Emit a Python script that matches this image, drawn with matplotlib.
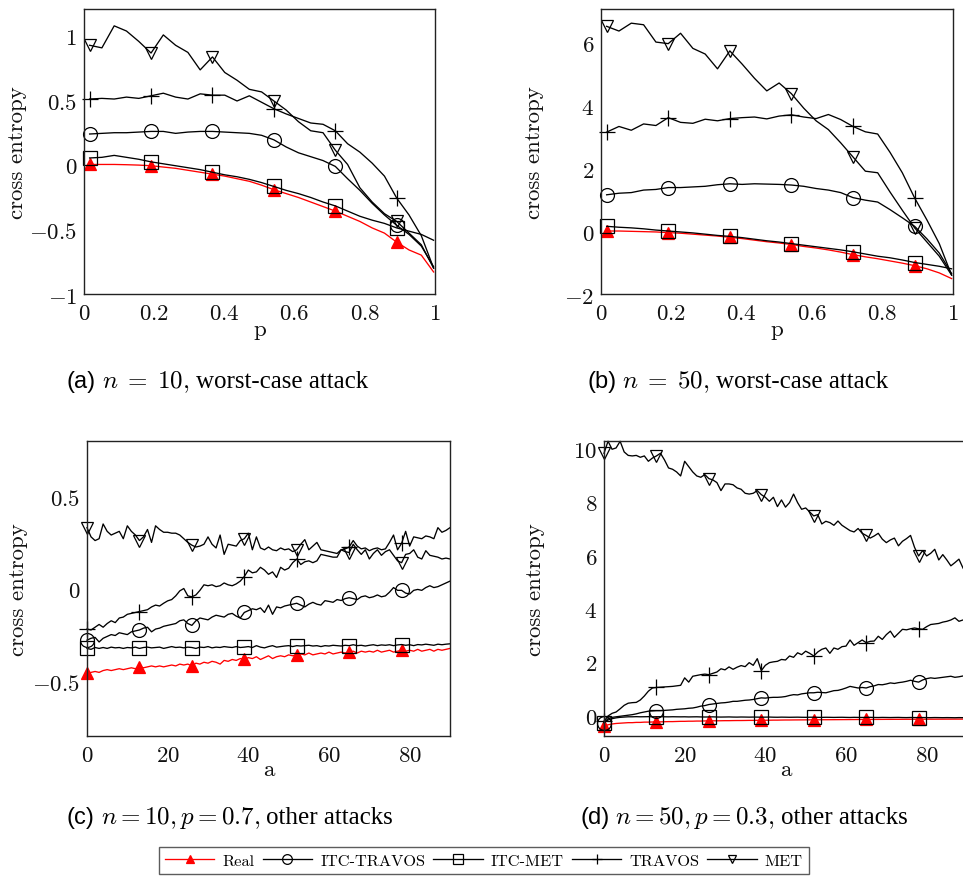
import numpy as np
import matplotlib
matplotlib.use("Agg")
import matplotlib.pyplot as plt
from matplotlib.ticker import FuncFormatter, FixedLocator

plt.rcParams['mathtext.fontset'] = 'cm'
plt.rcParams['axes.formatter.use_mathtext'] = True

# ---------------- data ----------------
SERIES = ["Real", "ITC-TRAVOS", "ITC-MET", "TRAVOS", "MET"]

# x grids
P_GRID = np.round(np.linspace(0.016, 0.996, 29), 3)   # panels (a), (b)
A_GRID = np.arange(0, 91)                              # panels (c), (d)

# (a) n = 10, worst-case attack
REAL_A = [0.0, 0.0, 0.0, -0.002, -0.005, -0.01, -0.02, -0.03, -0.045, -0.06,
          -0.075, -0.09, -0.11, -0.13, -0.16, -0.195, -0.225, -0.255, -0.29, -0.325,
          -0.36, -0.40, -0.44, -0.49, -0.53, -0.60, -0.66, -0.70, -0.83]
ITCTRAVOS_A = [0.235, 0.24, 0.245, 0.245, 0.25, 0.255, 0.255, 0.24, 0.25, 0.255,
               0.255, 0.25, 0.245, 0.24, 0.225, 0.19, 0.135, 0.09, 0.06, 0.03,
               -0.015, -0.11, -0.2, -0.3, -0.39, -0.47, -0.54, -0.63, -0.79]
ITCMET_A = [0.05, 0.055, 0.07, 0.055, 0.04, 0.02, 0.005, -0.01, -0.025, -0.04,
            -0.06, -0.08, -0.095, -0.115, -0.14, -0.17, -0.2, -0.225, -0.255, -0.29,
            -0.32, -0.36, -0.40, -0.43, -0.455, -0.49, -0.515, -0.54, -0.585]
TRAVOS_A = [0.505, 0.51, 0.505, 0.52, 0.51, 0.53, 0.55, 0.52, 0.505, 0.545,
            0.535, 0.535, 0.49, 0.53, 0.48, 0.43, 0.39, 0.355, 0.32, 0.31,
            0.26, 0.16, 0.095, 0.01, -0.09, -0.26, -0.39, -0.55, -0.80]
MET_A = [0.92, 0.9, 1.07, 1.03, 0.95, 0.86, 1.0, 0.92, 0.865, 0.73,
         0.83, 0.71, 0.65, 0.58, 0.56, 0.49, 0.42, 0.33, 0.26, 0.245,
         0.11, 0.0, -0.18, -0.29, -0.38, -0.44, -0.53, -0.62, -0.80]

# (b) n = 50, worst-case attack
REAL_B = [0.0, 0.0, -0.01, -0.02, -0.03, -0.05, -0.07, -0.1, -0.13, -0.16,
          -0.2, -0.24, -0.29, -0.34, -0.38, -0.43, -0.49, -0.54, -0.6, -0.67,
          -0.75, -0.82, -0.88, -0.95, -1.02, -1.1, -1.2, -1.33, -1.51]
ITCTRAVOS_B = [1.15, 1.2, 1.22, 1.3, 1.32, 1.38, 1.38, 1.4, 1.42, 1.47,
               1.5, 1.48, 1.5, 1.49, 1.48, 1.46, 1.42, 1.35, 1.3, 1.22,
               1.06, 0.98, 0.92, 0.68, 0.42, 0.15, -0.25, -0.7, -1.35]
ITCMET_B = [0.15, 0.12, 0.1, 0.07, 0.03, 0.0, -0.03, -0.06, -0.1, -0.14,
            -0.17, -0.21, -0.26, -0.31, -0.35, -0.40, -0.45, -0.5, -0.55, -0.6,
            -0.66, -0.73, -0.8, -0.85, -0.92, -1.0, -1.06, -1.12, -1.2]
TRAVOS_B = [3.14, 3.32, 3.2, 3.4, 3.35, 3.6, 3.45, 3.42, 3.55, 3.5,
            3.57, 3.6, 3.62, 3.56, 3.65, 3.69, 3.62, 3.57, 3.7, 3.54,
            3.32, 3.15, 3.08, 2.5, 1.85, 1.05, 0.35, -0.4, -1.4]
MET_B = [6.5, 6.35, 6.6, 6.55, 6.0, 5.95, 6.28, 5.8, 5.62, 5.15,
         5.72, 5.3, 4.85, 4.45, 4.7, 4.36, 3.9, 3.5, 3.22, 2.8,
         2.35, 1.9, 1.85, 1.24, 0.66, 0.1, -0.35, -0.8, -1.4]

# (c) n=10, p=0.7, other attacks
REAL_C = [-0.46, -0.455, -0.45, -0.455, -0.445, -0.44, -0.445, -0.44, -0.435, -0.44,
          -0.435, -0.43, -0.435, -0.425, -0.43, -0.425, -0.42, -0.425, -0.42, -0.425,
          -0.42, -0.415, -0.42, -0.41, -0.415, -0.41, -0.42, -0.405, -0.41, -0.40,
          -0.405, -0.395, -0.40, -0.41, -0.39, -0.395, -0.385, -0.39, -0.38, -0.385,
          -0.375, -0.38, -0.37, -0.385, -0.375, -0.365, -0.38, -0.37, -0.365, -0.37,
          -0.36, -0.365, -0.36, -0.355, -0.36, -0.35, -0.36, -0.355, -0.35, -0.355,
          -0.345, -0.355, -0.35, -0.345, -0.35, -0.345, -0.34, -0.35, -0.34, -0.345,
          -0.34, -0.345, -0.335, -0.345, -0.34, -0.335, -0.345, -0.34, -0.335, -0.34,
          -0.335, -0.34, -0.33, -0.34, -0.335, -0.33, -0.34, -0.33, -0.335, -0.33, -0.325]
ITCTRAVOS_C = [-0.28, -0.27, -0.265, -0.29, -0.27, -0.26, -0.25, -0.255, -0.24, -0.245,
               -0.25, -0.235, -0.23, -0.225, -0.215, -0.21, -0.235, -0.22, -0.215, -0.205,
               -0.2, -0.195, -0.19, -0.175, -0.17, -0.19, -0.2, -0.175, -0.16, -0.165,
               -0.17, -0.155, -0.145, -0.15, -0.155, -0.14, -0.135, -0.15, -0.16, -0.13,
               -0.12, -0.11, -0.115, -0.105, -0.13, -0.09, -0.14, -0.1, -0.105, -0.095,
               -0.09, -0.085, -0.08, -0.09, -0.1, -0.085, -0.075, -0.085, -0.09, -0.066,
               -0.07, -0.075, -0.06, -0.065, -0.055, -0.05, -0.055, -0.06, -0.045, -0.04,
               -0.05, -0.045, -0.035, -0.045, -0.04, -0.02, 0.005, -0.01, -0.01, -0.025,
               -0.03, -0.01, -0.005, -0.01, 0.005, 0.015, 0.005, 0.01, 0.02, 0.03, 0.04]
ITCMET_C = [-0.325, -0.33, -0.32, -0.325, -0.32, -0.325, -0.318, -0.322, -0.32, -0.325,
            -0.32, -0.322, -0.318, -0.325, -0.32, -0.318, -0.322, -0.32, -0.318, -0.325,
            -0.32, -0.315, -0.32, -0.318, -0.322, -0.318, -0.32, -0.325, -0.318, -0.32,
            -0.315, -0.322, -0.318, -0.32, -0.315, -0.318, -0.32, -0.315, -0.32, -0.318,
            -0.315, -0.32, -0.31, -0.318, -0.322, -0.315, -0.31, -0.318, -0.315, -0.312,
            -0.31, -0.315, -0.31, -0.312, -0.31, -0.308, -0.312, -0.31, -0.315, -0.31,
            -0.312, -0.308, -0.31, -0.312, -0.308, -0.31, -0.305, -0.31, -0.308, -0.312,
            -0.308, -0.305, -0.31, -0.306, -0.308, -0.305, -0.31, -0.306, -0.304, -0.308,
            -0.305, -0.31, -0.304, -0.306, -0.302, -0.305, -0.308, -0.302, -0.305, -0.302, -0.30]
TRAVOS_C = [-0.22, -0.225, -0.21, -0.195, -0.21, -0.19, -0.175, -0.185, -0.16, -0.155,
            -0.14, -0.135, -0.13, -0.125, -0.12, -0.115, -0.1, -0.09, -0.095, -0.08,
            -0.067, -0.06, -0.04, -0.013, 0.0, -0.04, -0.045, -0.035, -0.01, 0.02,
            0.015, 0.02, 0.01, 0.015, 0.03, 0.02, 0.015, 0.025, 0.04, 0.065,
            0.1, 0.085, 0.09, 0.115, 0.1, 0.077, 0.09, 0.06, 0.115, 0.1,
            0.11, 0.14, 0.16, 0.13, 0.145, 0.15, 0.14, 0.15, 0.185, 0.18,
            0.175, 0.17, 0.17, 0.21, 0.215, 0.225, 0.26, 0.23, 0.215, 0.22,
            0.205, 0.215, 0.22, 0.21, 0.215, 0.25, 0.29, 0.21, 0.245, 0.31,
            0.23, 0.28, 0.275, 0.27, 0.285, 0.28, 0.27, 0.33, 0.305, 0.315, 0.33]
MET_C = [0.33, 0.28, 0.26, 0.27, 0.35, 0.31, 0.29, 0.3, 0.31, 0.27,
         0.34, 0.31, 0.29, 0.26, 0.28, 0.32, 0.25, 0.34, 0.32, 0.305,
         0.305, 0.3, 0.3, 0.29, 0.27, 0.25, 0.235, 0.225, 0.23, 0.24,
         0.28, 0.24, 0.22, 0.29, 0.185, 0.24, 0.235, 0.23, 0.26, 0.27,
         0.3, 0.21, 0.28, 0.22, 0.21, 0.225, 0.21, 0.205, 0.22, 0.21,
         0.215, 0.2, 0.21, 0.24, 0.265, 0.21, 0.23, 0.25, 0.21, 0.205,
         0.2, 0.195, 0.19, 0.21, 0.2, 0.195, 0.24, 0.21, 0.185, 0.21,
         0.16, 0.19, 0.21, 0.18, 0.2, 0.21, 0.18, 0.15, 0.14, 0.185,
         0.19, 0.21, 0.17, 0.16, 0.205, 0.18, 0.175, 0.17, 0.16, 0.165, 0.16]

# (d) n=50, p=0.3, other attacks
REAL_D = [-0.42, -0.38, -0.35, -0.33, -0.32, -0.31, -0.3, -0.3, -0.29, -0.29,
          -0.28, -0.28, -0.275, -0.27, -0.27, -0.265, -0.26, -0.26, -0.255, -0.25,
          -0.25, -0.245, -0.245, -0.24, -0.24, -0.235, -0.235, -0.23, -0.23, -0.228,
          -0.225, -0.225, -0.222, -0.22, -0.22, -0.218, -0.215, -0.215, -0.212, -0.21,
          -0.21, -0.208, -0.205, -0.205, -0.202, -0.2, -0.2, -0.198, -0.197, -0.196,
          -0.195, -0.194, -0.193, -0.192, -0.19, -0.19, -0.189, -0.188, -0.187, -0.186,
          -0.185, -0.184, -0.183, -0.182, -0.181, -0.18, -0.18, -0.179, -0.178, -0.177,
          -0.176, -0.176, -0.175, -0.175, -0.174, -0.173, -0.173, -0.172, -0.172, -0.171,
          -0.17, -0.17, -0.17, -0.169, -0.169, -0.168, -0.168, -0.167, -0.167, -0.166, -0.166]
ITCTRAVOS_D = [-0.3, -0.15, -0.1, -0.08, -0.06, -0.04, -0.02, 0.0, 0.03, 0.07,
               0.1, 0.13, 0.14, 0.15, 0.15, 0.16, 0.17, 0.18, 0.2, 0.21,
               0.22, 0.24, 0.25, 0.28, 0.32, 0.34, 0.38, 0.4, 0.42, 0.44,
               0.45, 0.47, 0.5, 0.5, 0.52, 0.54, 0.55, 0.57, 0.6, 0.63,
               0.62, 0.64, 0.65, 0.65, 0.66, 0.68, 0.72, 0.75, 0.74, 0.78,
               0.8, 0.82, 0.82, 0.84, 0.83, 0.82, 0.86, 0.9, 0.91, 0.95,
               1.0, 1.06, 1.03, 1.0, 1.02, 1.0, 1.05, 1.08, 1.13, 1.12,
               1.15, 1.19, 1.17, 1.2, 1.22, 1.25, 1.29, 1.25, 1.22, 1.3,
               1.35, 1.38, 1.36, 1.38, 1.4, 1.42, 1.44, 1.4, 1.42, 1.45, 1.44]
ITCMET_D = [-0.3, -0.2, -0.15, -0.12, -0.1, -0.09, -0.08, -0.08, -0.075, -0.08,
            -0.078, -0.075, -0.08, -0.078, -0.075, -0.08, -0.082, -0.078, -0.08, -0.082,
            -0.08, -0.085, -0.082, -0.08, -0.085, -0.088, -0.085, -0.082, -0.088, -0.09,
            -0.088, -0.085, -0.09, -0.092, -0.088, -0.09, -0.093, -0.09, -0.092, -0.095,
            -0.093, -0.09, -0.095, -0.097, -0.093, -0.095, -0.098, -0.096, -0.094, -0.098,
            -0.1, -0.097, -0.095, -0.1, -0.102, -0.098, -0.1, -0.103, -0.1, -0.098,
            -0.102, -0.105, -0.1, -0.103, -0.105, -0.102, -0.1, -0.105, -0.107, -0.103,
            -0.105, -0.108, -0.105, -0.103, -0.108, -0.11, -0.106, -0.108, -0.11, -0.107,
            -0.11, -0.112, -0.108, -0.11, -0.113, -0.11, -0.112, -0.115, -0.11, -0.113, -0.115]
TRAVOS_D = [-0.25, -0.05, 0.05, 0.1, 0.22, 0.35, 0.43, 0.45, 0.46, 0.55,
            0.7, 0.88, 1.0, 1.02, 1.03, 1.04, 1.05, 1.06, 1.08, 1.1,
            1.38, 1.22, 1.44, 1.47, 1.5, 1.52, 1.5, 1.55, 1.6, 1.72,
            1.68, 1.79, 1.7, 1.78, 1.84, 1.8, 1.95, 1.85, 2.1, 1.65,
            1.85, 1.95, 1.98, 2.0, 2.07, 2.05, 2.2, 2.15, 2.32, 2.25,
            2.38, 2.3, 2.2, 2.35, 2.45, 2.5, 2.3, 2.5, 2.45, 2.55,
            2.57, 2.8, 2.6, 2.7, 2.8, 2.7, 2.75, 2.76, 2.94, 2.82,
            3.0, 3.13, 2.9, 3.05, 3.2, 3.18, 3.22, 3.25, 3.22, 3.2,
            3.3, 3.38, 3.4, 3.42, 3.47, 3.5, 3.55, 3.63, 3.5, 3.55, 3.57]
MET_D = [9.8, 10.25, 9.95, 10.0, 10.25, 9.85, 9.72, 9.7, 9.72, 9.65,
         9.7, 9.5, 9.62, 9.7, 9.8, 9.55, 9.25, 9.2, 9.1, 8.95,
         9.5, 9.3, 9.1, 8.95, 8.9, 9.0, 8.85, 8.8, 8.7, 8.4,
         8.65, 8.65, 8.62, 8.5, 8.45, 8.3, 8.27, 8.3, 8.4, 8.25,
         8.15, 8.0, 8.15, 7.8, 8.05, 7.78, 7.95, 8.27, 7.95, 7.7,
         7.75, 7.6, 7.45, 7.5, 7.15, 7.25, 7.2, 7.1, 7.26, 7.1,
         7.0, 6.9, 6.85, 6.98, 6.8, 6.72, 6.62, 6.7, 6.8, 6.58,
         6.45, 6.55, 6.62, 6.33, 6.5, 6.6, 6.72, 6.27, 5.95, 6.15,
         5.95, 6.05, 6.2, 5.8, 6.0, 5.8, 5.58, 5.7, 5.83, 5.5, 5.25]

PANELS = [
    dict(x=P_GRID, data=[REAL_A, ITCTRAVOS_A, ITCMET_A, TRAVOS_A, MET_A],
         xlim=(0, 1), ylim=(-1, 1.2), xticks=[0, 0.2, 0.4, 0.6, 0.8, 1],
         yticks=[-1, -0.5, 0, 0.5, 1], xlabel="p", every=5),
    dict(x=P_GRID, data=[REAL_B, ITCTRAVOS_B, ITCMET_B, TRAVOS_B, MET_B],
         xlim=(0, 1), ylim=(-2, 7.05), xticks=[0, 0.2, 0.4, 0.6, 0.8, 1],
         yticks=[-2, 0, 2, 4, 6], xlabel="p", every=5),
    dict(x=A_GRID, data=[REAL_C, ITCTRAVOS_C, ITCMET_C, TRAVOS_C, MET_C],
         xlim=(0, 90), ylim=(-0.8, 0.8), xticks=[0, 20, 40, 60, 80],
         yticks=[-0.5, 0, 0.5], xlabel="a", every=13),
    dict(x=A_GRID, data=[REAL_D, ITCTRAVOS_D, ITCMET_D, TRAVOS_D, MET_D],
         xlim=(0, 90), ylim=(-0.8, 10.26), xticks=[0, 20, 40, 60, 80],
         yticks=[0, 2, 4, 6, 8, 10], xlabel="a", every=13),
]

CAPTIONS = [("(a)", r"$n\;=\;10,$", "worst-case attack"),
            ("(b)", r"$n\;=\;50,$", "worst-case attack"),
            ("(c)", r"$n{=}10, p{=}0.7,$", "other attacks"),
            ("(d)", r"$n{=}50, p{=}0.3,$", "other attacks")]

# ---------------- style ----------------
STYLE = {
    "Real":       dict(color="#ff0000", marker="^", ms=9.0, mfc="#ff0000"),
    "ITC-TRAVOS": dict(color="black", marker="o", ms=10.0, mfc="none"),
    "ITC-MET":    dict(color="black", marker="s", ms=9.5, mfc="none"),
    "TRAVOS":     dict(color="black", marker="+", ms=11.0, mfc="none"),
    "MET":        dict(color="black", marker="v", ms=8.5, mfc="none"),
}

W, H = 963, 878
fig = plt.figure(figsize=(W / 100, H / 100), dpi=100)

# axes rectangles in pixels: left, top, width, height
RECTS = [(84, 10, 351, 285), (601, 10, 352, 285),
         (87, 442, 363, 295), (604, 442, 363, 295)]
YLAB_X = [-0.19, -0.19, -0.19, -0.19]
XLAB_Y = [-0.123, -0.123, -0.112, -0.112]

fmt = FuncFormatter(lambda v, pos: r"$%s$" % ("%g" % v))
axes = []
for i, (pan, rect) in enumerate(zip(PANELS, RECTS)):
    l, t, w, h = rect
    ax = fig.add_axes([l / W, 1 - (t + h) / H, w / W, h / H])
    axes.append(ax)
    for name, y in zip(SERIES, pan["data"]):
        st = STYLE[name]
        ax.plot(pan["x"], y, color=st["color"], lw=0.95, marker=st["marker"],
                ms=st["ms"], mfc=st["mfc"], mec=st["color"], mew=0.9,
                markevery=pan["every"], clip_on=False, label=name)
    ax.set_xlim(*pan["xlim"])
    ax.set_ylim(*pan["ylim"])
    ax.xaxis.set_major_locator(FixedLocator(pan["xticks"]))
    ax.yaxis.set_major_locator(FixedLocator(pan["yticks"]))
    ax.xaxis.set_major_formatter(fmt)
    ax.yaxis.set_major_formatter(fmt)
    ax.tick_params(length=0, labelsize=16.5, pad=5, colors="#111111")
    for sp in ax.spines.values():
        sp.set_color("#222222")
        sp.set_linewidth(1.0)
    ax.set_ylabel("cross entropy", fontfamily="cmr10", fontsize=16.5, color="#111111")
    ax.yaxis.set_label_coords(YLAB_X[i], 0.5)
    ax.yaxis.label.set_va("center")
    ax.set_xlabel(pan["xlabel"], fontfamily="cmr10", fontsize=16.5, color="#111111")
    ax.xaxis.set_label_coords(0.5, XLAB_Y[i])
    ax.xaxis.label.set_va("center")

# legend
handles, labels = axes[0].get_legend_handles_labels()
leg = fig.legend(handles, labels, loc="center", bbox_to_anchor=(484 / W, 1 - 861.5 / H),
                 ncol=5, frameon=True, fancybox=False, prop=dict(family="cmr10", size=11.8),
                 handlelength=3.0, handletextpad=0.5, columnspacing=0.5,
                 borderpad=0.4, markerscale=0.7, edgecolor="#333333")
leg.get_frame().set_linewidth(1.0)

# captions
renderer = fig.canvas.get_renderer()
CAP_POS = [(67, 388), (587, 388), (67, 824), (580, 824)]
for (lab, math, rest), (x0, yb) in zip(CAPTIONS, CAP_POS):
    x = x0
    t = fig.text(x / W, 1 - yb / H, lab, family="Liberation Sans", fontsize=17,
                 va="baseline", ha="left")
    x += t.get_window_extent(renderer).width + 6
    t = fig.text(x / W, 1 - yb / H, math, fontsize=18, va="baseline", ha="left")
    x += t.get_window_extent(renderer).width + 6
    fig.text(x / W, 1 - yb / H, rest, family="Liberation Serif", fontsize=18,
             va="baseline", ha="left")

fig.savefig("out.png", dpi=100)
